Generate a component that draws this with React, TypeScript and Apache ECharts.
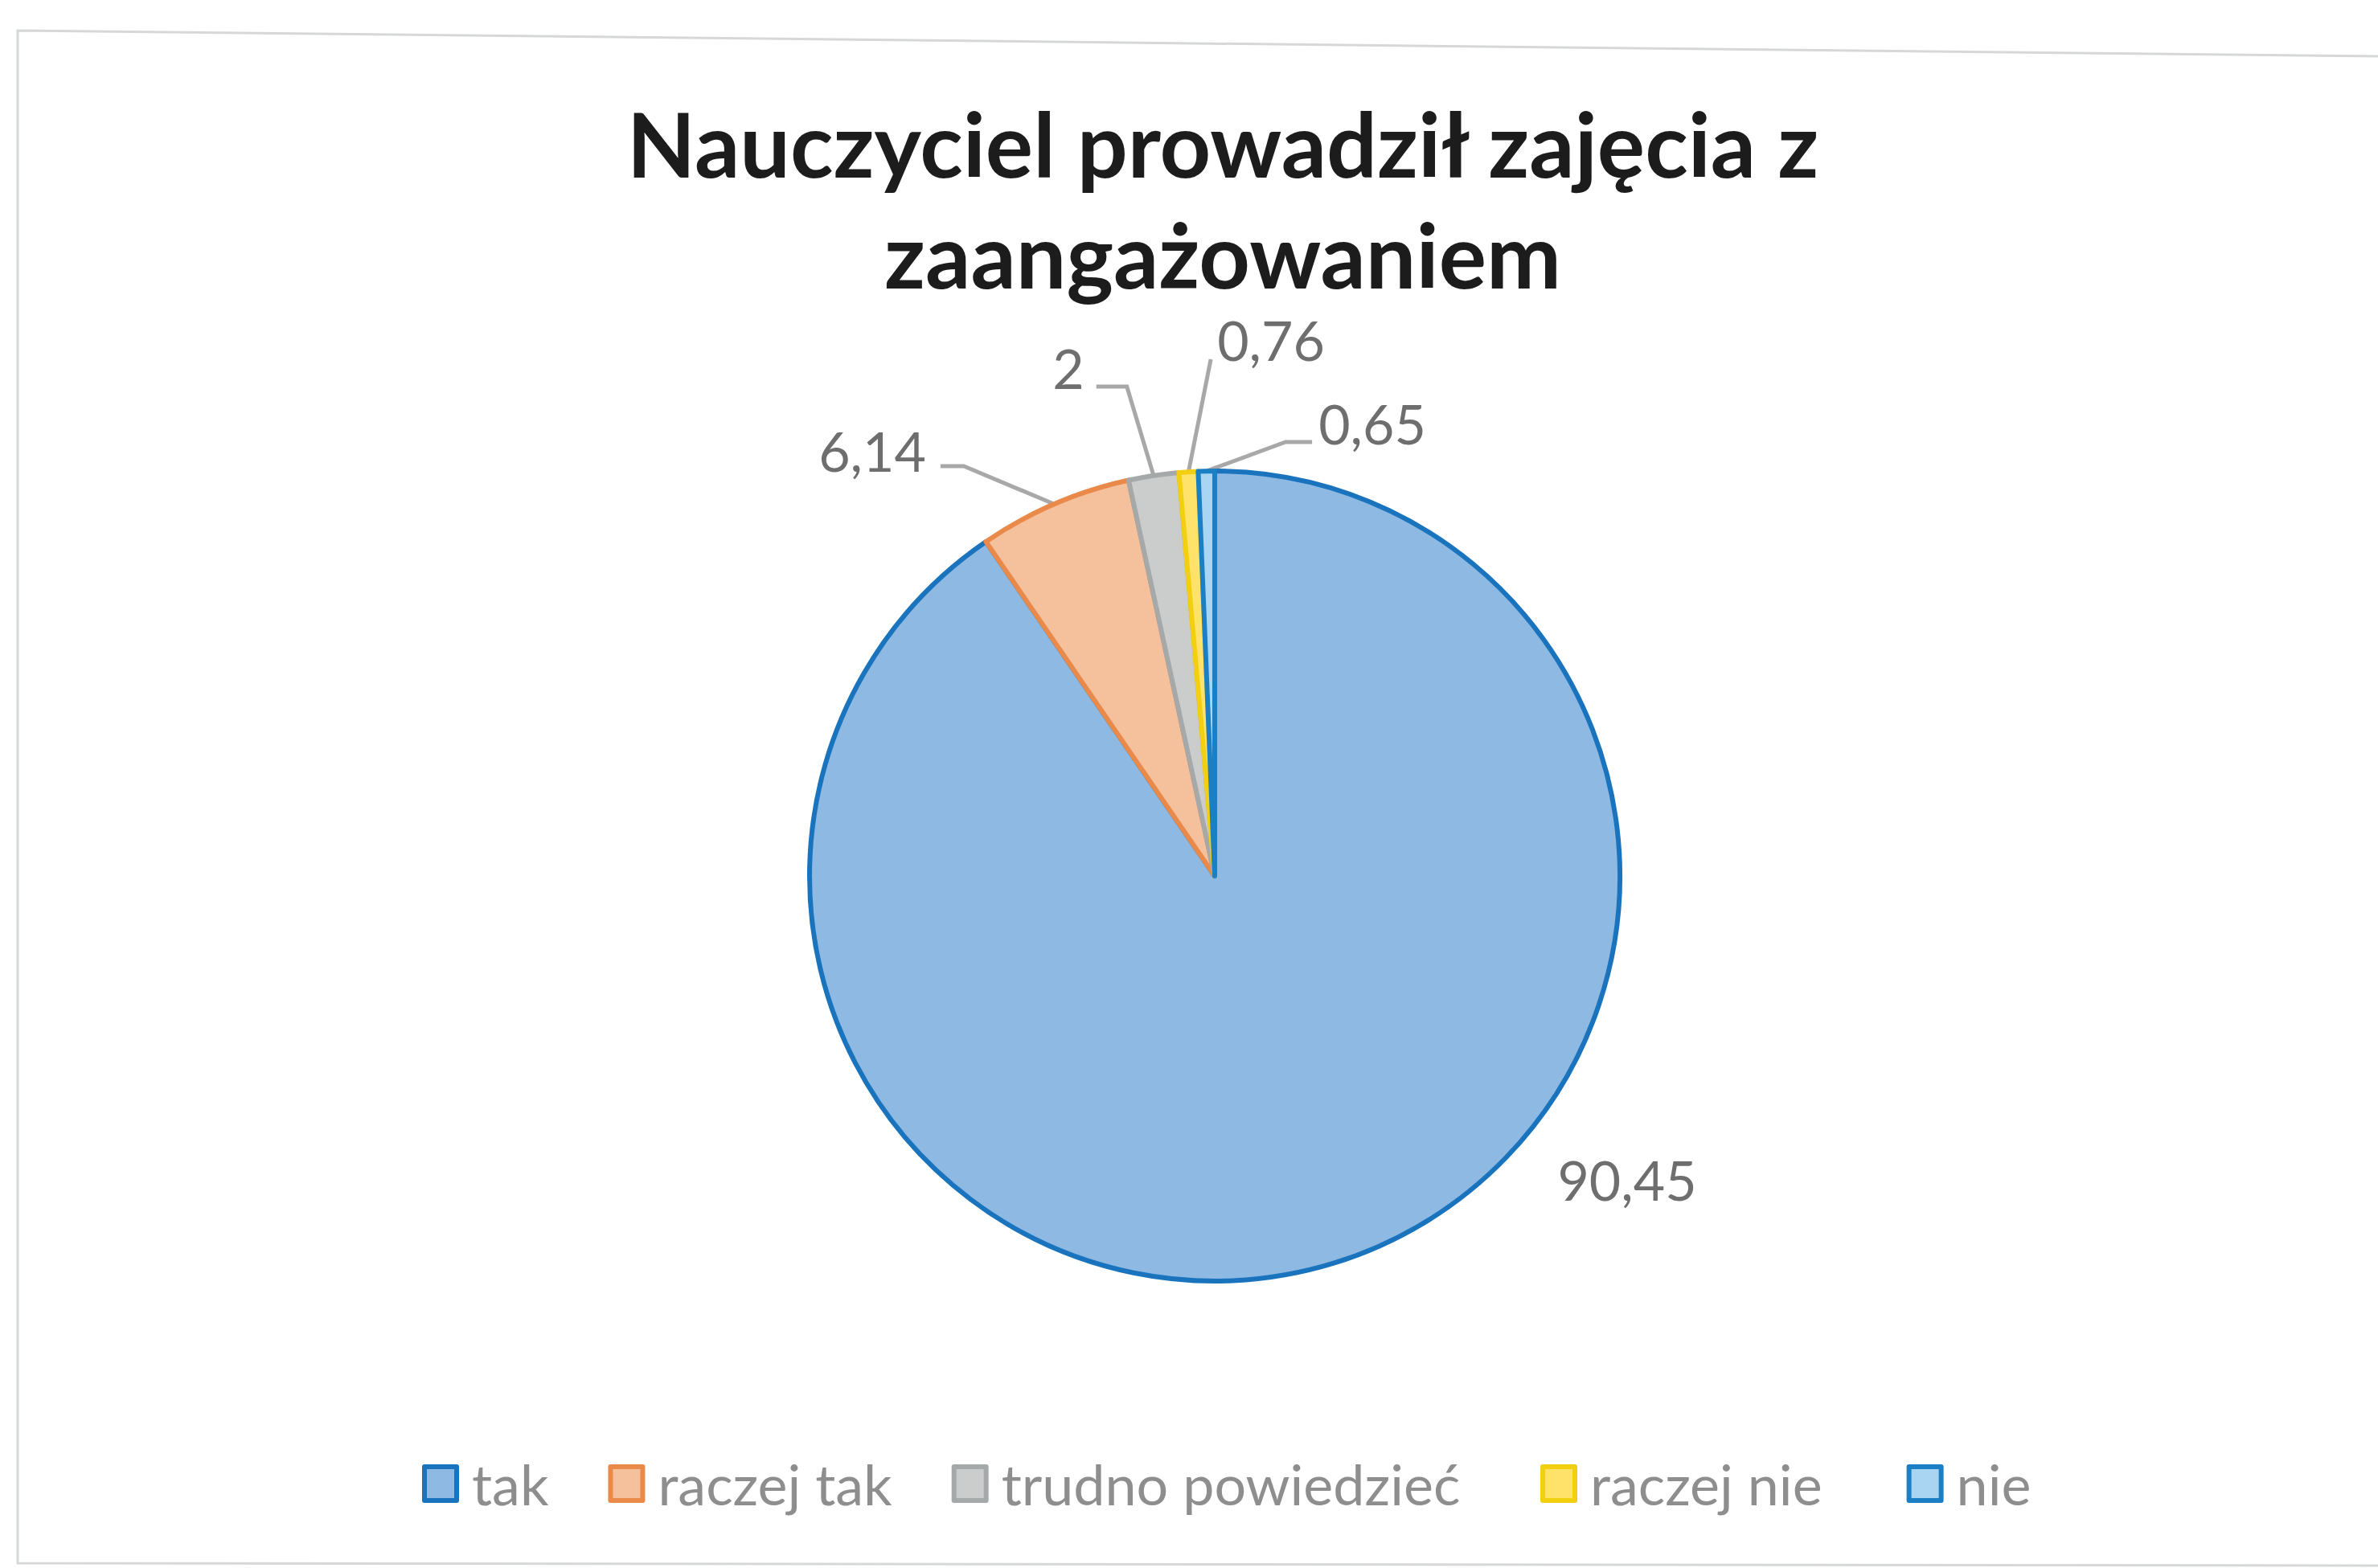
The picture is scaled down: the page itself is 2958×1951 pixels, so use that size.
import React, { useEffect, useRef } from 'react';
import * as echarts from 'echarts';

// ---- data ----
const categories = ['tak', 'raczej tak', 'trudno powiedzieć', 'raczej nie', 'nie'];
const values = [90.45, 6.14, 2, 0.76, 0.65];
const titleLines = ['Nauczyciel prowadził zajęcia z', 'zaangażowaniem'];

// ---- styles ----
const fillColors = ['#8DB9E2', '#F5C09C', '#CBCDCD', '#FFE26A', '#A9D5F2'];
const borderColors = ['#1A74BD', '#E98A4B', '#A6A9A9', '#F2CF10', '#1C7FC4'];

// ---- layout ----
const W = 2958;
const H = 1951;
const CX = 1511;
const CY = 1090;
const R = 504;
// label centres relative to the pie centre
const labelOffsets: [number, number][] = [
  [513, 377],
  [-426, -530],
  [-182, -633],
  [70, -668],
  [196, -564],
];
const titleLineY = [178, 316];
// legend split into two groups (to reproduce the uneven spacing)
const legendGroups = [
  { from: 0, to: 3, left: 520, gap: 74 },
  { from: 3, to: 5, left: 1911, gap: 105 },
];

function fmt(v: number) {
  return String(v).replace('.', ',');
}

export default function App() {
  const ref = useRef<HTMLDivElement>(null);

  useEffect(() => {
    document.body.style.margin = '0';
    document.body.style.background = '#ffffff';
    if (!ref.current) return;
    const chart = echarts.init(ref.current, undefined, { renderer: 'svg' });

    const total = values.reduce((a, b) => a + b, 0);

    const legends = legendGroups.map((g) => ({
      left: g.left,
      top: 1806,
      orient: 'horizontal',
      icon: 'rect',
      itemWidth: 40,
      itemHeight: 42,
      itemGap: g.gap,
      selectedMode: false,
      data: categories.slice(g.from, g.to).map((n, j) => ({
        name: n,
        itemStyle: {
          color: fillColors[g.from + j],
          borderColor: borderColors[g.from + j],
          borderWidth: 6,
        },
      })),
      textStyle: {
        fontSize: 70,
        fontFamily: 'Lato',
        color: '#8e8e8e',
        padding: [0, 0, 0, 14],
      },
    }));

    const option: any = {
      animation: false,
      backgroundColor: '#ffffff',
      graphic: [
        {
          type: 'polyline',
          shape: { points: [[2958, 70], [22, 38], [22, 1945], [2958, 1948]] },
          style: { stroke: '#d6d8d8', lineWidth: 3, fill: 'none' },
          silent: true,
        },
        ...titleLines.map((t, i) => ({
          type: 'text',
          x: 1521,
          y: titleLineY[i],
          style: {
            text: t,
            fontFamily: 'Lato',
            fontWeight: 'bold',
            fontSize: 111,
            lineHeight: 100,
            fill: '#1c1c1c',
            align: 'center',
            verticalAlign: 'middle',
          },
        })),
      ],
      legend: legends,
      series: [
        {
          type: 'pie',
          center: [CX, CY],
          radius: R,
          startAngle: 90,
          clockwise: true,
          avoidLabelOverlap: false,
          data: categories.map((n, i) => ({
            name: n,
            value: values[i],
            itemStyle: { color: fillColors[i], borderColor: borderColors[i], borderWidth: 6 },
            labelLine: { show: i !== 0 },
          })),
          label: {
            show: true,
            position: 'outside',
            fontSize: 68,
            lineHeight: 56,
            fontFamily: 'Lato',
            color: '#6e6e6e',
            formatter: (p: any) => fmt(p.value),
          },
          labelLine: {
            show: true,
            length: 20,
            length2: 20,
            lineStyle: { color: '#a8a8a8', width: 5 },
          },
          labelLayout: (params: any) => {
            const i = params.dataIndex;
            const [dx, dy] = labelOffsets[i];
            const x = CX + dx;
            const y = CY + dy;
            const w = params.labelRect.width;
            // slice edge point at mid angle
            let before = 0;
            for (let k = 0; k < i; k++) before += values[k];
            const mid = ((before + values[i] / 2) / total) * Math.PI * 2;
            const p0: [number, number] = [CX + R * Math.sin(mid), CY - R * Math.cos(mid)];
            let pts: [number, number][] | undefined;
            if (i === 1) {
              const end: [number, number] = [x + w / 2 + 18, y + 20];
              pts = [p0, [end[0] + 29, end[1]], end];
            } else if (i === 2) {
              const end: [number, number] = [x + w / 2 + 15, y + 24];
              pts = [p0, [end[0] + 38, end[1]], end];
            } else if (i === 3) {
              const end: [number, number] = [x - w / 2 - 8, y + 25];
              pts = [p0, end, end];
            } else if (i === 4) {
              const end: [number, number] = [x - w / 2 - 8, y + 24];
              pts = [p0, [end[0] - 33, end[1]], end];
            }
            const res: any = { x, y, align: 'center', verticalAlign: 'middle' };
            if (pts) res.labelLinePoints = pts;
            return res;
          },
        },
      ],
    };

    chart.setOption(option);
    return () => {
      chart.dispose();
    };
  }, []);

  return <div ref={ref} style={{ width: W, height: H }} />;
}
